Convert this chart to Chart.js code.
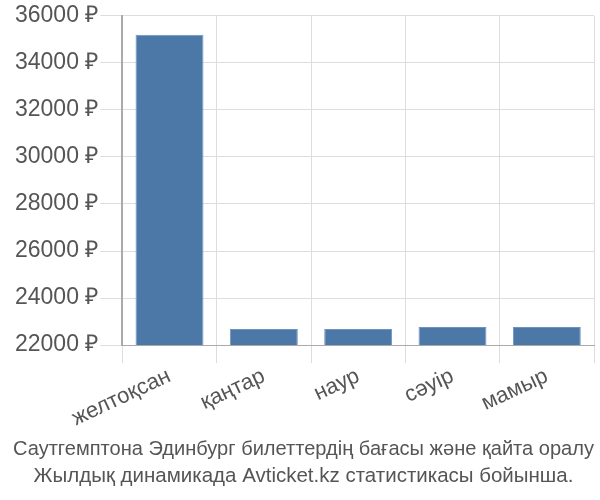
<!DOCTYPE html>
<html>
<head>
<meta charset="utf-8">
<script src="https://cdn.jsdelivr.net/npm/chart.js@4/dist/chart.umd.min.js"></script>
<style>
  html, body { margin: 0; padding: 0; background: #fff; }
  #wrap { width: 600px; height: 500px; }
</style>
</head>
<body>
<div id="wrap"><canvas id="chart"></canvas></div>
<script>
// ── Data ───────────────────────────────────────────────────────────────────
const months = ['желтоқсан', 'қаңтар', 'наур', 'сәуір', 'мамыр'];
const prices = [35190, 22680, 22680, 22770, 22770];
const titleLines = [
  'Саутгемптона Эдинбург билеттердің бағасы және қайта оралу',
  'Жылдық динамикада Avticket.kz статистикасы бойынша.'
];

const FONT = "'Liberation Sans', Arial, sans-serif";

// ── Chart ──────────────────────────────────────────────────────────────────
new Chart(document.getElementById('chart').getContext('2d'), {
  type: 'bar',
  data: {
    labels: months,
    datasets: [{
      data: prices,
      backgroundColor: '#4c78a8',
      borderColor: '#6f93bd',
      borderWidth: 1,
      categoryPercentage: 0.72,
      barPercentage: 1.0,
    }]
  },
  options: {
    animation: false,
    responsive: true,
    maintainAspectRatio: false,
    layout: { padding: { left: 13, right: 6, top: 4, bottom: 0 } },
    plugins: {
      legend: { display: false },
      tooltip: { enabled: false },
      title: {
        display: true,
        position: 'bottom',
        text: titleLines,
        color: '#555',
        font: { family: FONT, size: 20.5, weight: 'normal', lineHeight: 1.32 },
        padding: { top: 4, bottom: 10 },
      }
    },
    scales: {
      x: {
        offset: true,
        grid: { color: '#dddddd', tickLength: 18, offset: true },
        border: { color: '#aaaaaa' },
        ticks: {
          color: '#555', font: { family: FONT, size: 22 },
          minRotation: 25, maxRotation: 25, padding: 0,
        }
      },
      y: {
        min: 22000, max: 36000,
        grid: { color: '#dddddd', tickLength: 22 },
        border: { color: '#aaaaaa', width: 2 },
        ticks: {
          stepSize: 2000,
          color: '#555', font: { family: FONT, size: 23 }, padding: 2,
          callback: v => v + ' ₽',
        }
      }
    }
  }
});
</script>
</body>
</html>
